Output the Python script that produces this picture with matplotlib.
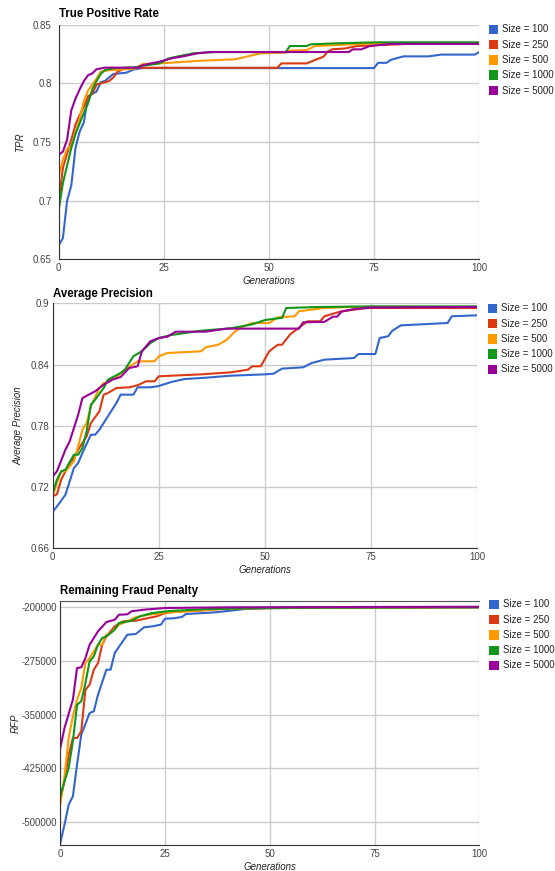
import numpy as np
import matplotlib
matplotlib.use("Agg")
import matplotlib.pyplot as plt
from matplotlib.patches import Rectangle

plt.rcParams['font.family'] = ['Liberation Sans', 'DejaVu Sans']

sizes = ['Size = 100', 'Size = 250', 'Size = 500', 'Size = 1000', 'Size = 5000']
colors = ['#3366cc', '#dc3912', '#ff9900', '#109618', '#990099']

# ---- True Positive Rate (generation, value) ----
tpr_gen_100 = [0, 1, 2, 3, 4, 5, 6, 7, 8, 9, 10, 11, 13, 16, 18, 20, 75, 76, 78, 79, 82, 88, 91, 99, 100]
tpr_100 = [0.662, 0.668, 0.700, 0.713, 0.745, 0.759, 0.767, 0.789, 0.791, 0.793, 0.801, 0.802, 0.808,
           0.809, 0.812, 0.813, 0.813, 0.8175, 0.8175, 0.820, 0.823, 0.823, 0.8245, 0.8245, 0.8265]
tpr_gen_250 = [0, 1, 2, 3, 4, 5, 6, 7, 8, 9, 10, 12, 13, 14, 15, 16, 52, 53, 59, 61, 63, 64, 65, 68, 71, 75, 83, 100]
tpr_250 = [0.698, 0.728, 0.740, 0.752, 0.765, 0.773, 0.780, 0.789, 0.791, 0.799, 0.800, 0.802, 0.805,
           0.810, 0.8115, 0.8133, 0.8133, 0.817, 0.817, 0.820, 0.8227, 0.827, 0.829, 0.8297, 0.8318,
           0.8325, 0.8336, 0.8336]
tpr_gen_500 = [0, 1, 2, 3, 4, 5, 6, 7, 8, 9, 10, 12, 18, 20, 24, 34, 42, 45, 48, 54, 55, 59, 61, 72, 76, 100]
tpr_500 = [0.7205, 0.735, 0.744, 0.747, 0.758, 0.770, 0.785, 0.794, 0.799, 0.804, 0.810, 0.8112, 0.8125,
           0.8165, 0.817, 0.8193, 0.8205, 0.823, 0.8256, 0.8262, 0.8279, 0.8284, 0.8318, 0.8336, 0.834, 0.834]
tpr_gen_1000 = [0, 1, 2, 3, 4, 5, 6, 7, 8, 9, 10, 11, 13, 18, 20, 24, 26, 28, 32, 37, 54, 55, 59, 60, 67, 76, 100]
tpr_1000 = [0.692, 0.715, 0.730, 0.745, 0.757, 0.766, 0.775, 0.783, 0.795, 0.802, 0.808, 0.8114, 0.8129,
            0.8135, 0.815, 0.817, 0.821, 0.8227, 0.8256, 0.8267, 0.8267, 0.8318, 0.8318, 0.8333, 0.8342,
            0.835, 0.835]
tpr_gen_5000 = [0, 1, 2, 3, 4, 5, 6, 7, 8, 9, 11, 19, 20, 24, 27, 30, 33, 36, 69, 70, 72, 74, 79, 100]
tpr_5000 = [0.739, 0.7418, 0.752, 0.777, 0.787, 0.795, 0.802, 0.807, 0.8085, 0.812, 0.8134, 0.8134, 0.8155,
            0.8185, 0.8214, 0.8233, 0.8256, 0.8267, 0.8267, 0.829, 0.829, 0.8318, 0.8336, 0.8336]

# ---- Average Precision ----
ap_gen_100 = [0, 1, 3, 4, 5, 6, 7, 9, 10, 11, 13, 15, 16, 19, 20, 23, 25, 28, 31, 36, 42, 50, 52, 54, 59,
              61, 64, 71, 72, 76, 77, 79, 80, 82, 93, 94, 100]
ap_100 = [0.696, 0.701, 0.7125, 0.7256, 0.7387, 0.7436, 0.7534, 0.7713, 0.7713, 0.7762, 0.7893, 0.8023,
          0.8105, 0.8105, 0.8177, 0.8177, 0.819, 0.823, 0.8258, 0.8271, 0.8291, 0.8304, 0.831, 0.836,
          0.8373, 0.8415, 0.8448, 0.8464, 0.8503, 0.8503, 0.866, 0.8677, 0.8732, 0.8784, 0.8807, 0.8873, 0.8882]
ap_gen_250 = [0, 1, 2, 3, 4, 5, 6, 8, 9, 11, 12, 13, 15, 18, 20, 22, 24, 25, 35, 42, 46, 47, 49, 51, 53,
              54, 56, 57, 60, 63, 64, 68, 74, 100]
ap_250 = [0.711, 0.713, 0.7272, 0.7354, 0.7436, 0.7484, 0.7566, 0.7697, 0.7827, 0.7942, 0.8105, 0.8121,
          0.817, 0.8177, 0.8197, 0.8236, 0.8236, 0.8285, 0.8304, 0.8324, 0.835, 0.8383, 0.8383, 0.853,
          0.8594, 0.8594, 0.8699, 0.8729, 0.8824, 0.8824, 0.8873, 0.8922, 0.8954, 0.8954]
ap_gen_500 = [0, 1, 2, 3, 5, 6, 7, 8, 9, 11, 12, 13, 15, 17, 20, 24, 25, 27, 35, 36, 39, 41, 43, 45, 47,
              51, 53, 57, 58, 64, 70, 100]
ap_500 = [0.711, 0.724, 0.7354, 0.7354, 0.7452, 0.7599, 0.7762, 0.7827, 0.7991, 0.817, 0.8219, 0.8225,
          0.8275, 0.835, 0.8432, 0.8432, 0.8481, 0.8513, 0.853, 0.8569, 0.8594, 0.8643, 0.8726, 0.8775,
          0.8807, 0.8807, 0.8863, 0.8873, 0.8922, 0.8954, 0.8964, 0.8964]
ap_gen_1000 = [0, 1, 2, 3, 5, 6, 7, 8, 9, 10, 12, 13, 16, 17, 19, 21, 23, 25, 28, 35, 42, 47, 50, 53, 54,
               55, 63, 75, 100]
ap_1000 = [0.7142, 0.7272, 0.7354, 0.737, 0.7517, 0.7517, 0.7583, 0.7746, 0.8007, 0.8056, 0.817, 0.8252,
           0.8317, 0.835, 0.8481, 0.853, 0.8611, 0.866, 0.869, 0.8732, 0.8755, 0.8794, 0.8836, 0.8853,
           0.8856, 0.8954, 0.8964, 0.897, 0.897]
ap_gen_5000 = [0, 1, 3, 4, 6, 7, 10, 12, 14, 16, 18, 20, 21, 23, 25, 27, 29, 36, 41, 58, 59, 64, 66, 67,
               68, 71, 75, 100]
ap_5000 = [0.7305, 0.7354, 0.7566, 0.7648, 0.7909, 0.8072, 0.8138, 0.8203, 0.8252, 0.8278, 0.8366, 0.8383,
           0.853, 0.8628, 0.866, 0.8673, 0.8722, 0.8722, 0.8752, 0.8752, 0.8814, 0.8818, 0.8869, 0.8869,
           0.8918, 0.8944, 0.8959, 0.8964]

# ---- Remaining Fraud Penalty ----
rfp_gen_100 = [0, 1, 2, 3, 4, 5, 7, 8, 9, 11, 12, 13, 16, 18, 20, 22, 24, 25, 27, 29, 30, 37, 44, 50, 60, 100]
rfp_100 = [-529800, -504200, -476200, -464500, -420200, -378300, -347900, -345500, -322300, -287300,
           -287300, -263900, -238300, -237400, -228000, -226600, -224300, -215900, -215400, -213600,
           -209400, -207000, -202500, -201300, -200700, -200300]
rfp_gen_250 = [0, 1, 2, 3, 4, 5, 6, 7, 8, 9, 10, 11, 13, 15, 18, 21, 23, 25, 28, 32, 40, 60, 100]
rfp_250 = [-466900, -443500, -406300, -382900, -382900, -373500, -315300, -308300, -287300, -277900,
           -252300, -240600, -226600, -219600, -218800, -215000, -212600, -208000, -206000, -205000,
           -201500, -200500, -199800]
rfp_gen_500 = [0, 1, 2, 3, 4, 5, 6, 7, 8, 9, 10, 11, 12, 14, 16, 18, 21, 25, 32, 40, 60, 100]
rfp_500 = [-476200, -436500, -382900, -352500, -329300, -312900, -277900, -270900, -261600, -252300,
           -252300, -238300, -236000, -224300, -219600, -214000, -210400, -207500, -205000, -202000,
           -200500, -199900]
rfp_gen_1000 = [0, 1, 2, 3, 4, 5, 6, 7, 8, 9, 10, 11, 13, 14, 17, 19, 22, 26, 35, 50, 100]
rfp_1000 = [-464500, -443500, -424900, -387500, -336300, -331500, -305900, -275600, -268600, -252300,
            -243000, -240600, -231300, -222000, -218800, -212600, -208000, -205200, -202500, -200800, -199900]
rfp_gen_5000 = [0, 1, 3, 4, 5, 6, 7, 8, 9, 11, 13, 14, 16, 17, 20, 25, 40, 100]
rfp_5000 = [-396900, -368900, -329300, -284900, -284000, -270900, -252300, -243000, -233600, -220600,
            -217400, -210400, -209800, -205600, -203300, -201000, -200000, -199200]

tpr_ticks = [0.65, 0.7, 0.75, 0.8, 0.85]
tpr_labels = ['0.65', '0.7', '0.75', '0.8', '0.85']
ap_ticks = [0.66, 0.72, 0.78, 0.84, 0.9]
ap_labels = ['0.66', '0.72', '0.78', '0.84', '0.9']
rfp_ticks = [-500000, -425000, -350000, -275000, -200000]
rfp_labels = ['-500000', '-425000', '-350000', '-275000', '-200000']
gen_ticks = [0, 25, 50, 75, 100]

W, H = 555, 871
fig = plt.figure(figsize=(W / 100, H / 100), dpi=100)


def box(l, r, t, b):
    # pixel box -> figure fraction
    return [l / W, 1 - b / H, (r - l) / W, (b - t) / H]


def chart(rect, title, title_y, ylabel, ylabel_x, gens, vals, ylim, ticks, labels, ypad, leg_x, leg_y, top_dark=False):
    ax = fig.add_axes(box(*rect))
    for g, v, c in zip(gens, vals, colors):
        ax.plot(g, v, color=c, lw=1.5, solid_joinstyle='round')
    ax.set_xlim(0, 100)
    ax.set_ylim(*ylim)
    ax.set_xticks(gen_ticks)
    ax.set_xticklabels([str(t) for t in gen_ticks])
    ax.set_yticks(ticks)
    ax.set_yticklabels(labels)
    ax.grid(True, color='#cccccc', lw=1)
    ax.set_axisbelow(True)
    ax.tick_params(length=0, labelsize=7, colors='#444444')
    ax.tick_params(axis='y', pad=ypad)
    ax.tick_params(axis='x', pad=3)
    ax.spines['right'].set_visible(False)
    ax.spines['top'].set_visible(top_dark)
    ax.spines['top'].set_color('#555555')
    ax.spines['left'].set_color('#333333')
    ax.spines['bottom'].set_color('#333333')
    ax.set_xlabel('Generations', fontsize=7, style='italic', color='#222222', labelpad=2)
    ax.set_ylabel(ylabel, fontsize=7, style='italic', color='#222222')
    # label coords give the right edge of the rotated label
    ax.yaxis.set_label_coords((ylabel_x + 4 - rect[0]) / (rect[1] - rect[0]), 0.5)
    fig.text(rect[0] / W, 1 - title_y / H, title, fontsize=8.3, fontweight='bold', va='baseline')
    # legend boxes
    for i, (lab, c) in enumerate(zip(sizes, colors)):
        yc = leg_y + i * 15.3
        fig.add_artist(Rectangle((leg_x / W, 1 - (yc + 4.7) / H), 9.4 / W, 9.4 / H,
                                 transform=fig.transFigure, color=c, lw=0))
        fig.text((leg_x + 13.5) / W, 1 - yc / H, lab, fontsize=7, color='#222222', va='center')
    return ax


chart((58.7, 479, 24.7, 259.3), 'True Positive Rate', 17, 'TPR', 21.5,
      [tpr_gen_100, tpr_gen_250, tpr_gen_500, tpr_gen_1000, tpr_gen_5000],
      [tpr_100, tpr_250, tpr_500, tpr_1000, tpr_5000],
      (0.65, 0.85), tpr_ticks, tpr_labels, 5, 489, 29.3)

chart((52.7, 477.3, 303.3, 548.3), 'Average Precision', 297, 'Average Precision', 19.5,
      [ap_gen_100, ap_gen_250, ap_gen_500, ap_gen_1000, ap_gen_5000],
      [ap_100, ap_250, ap_500, ap_1000, ap_5000],
      (0.66, 0.9), ap_ticks, ap_labels, 2.5, 487.7, 308.3)

chart((60.3, 479.3, 600.7, 845), 'Remaining Fraud Penalty', 593.5, 'RFP', 16.5,
      [rfp_gen_100, rfp_gen_250, rfp_gen_500, rfp_gen_1000, rfp_gen_5000],
      [rfp_100, rfp_250, rfp_500, rfp_1000, rfp_5000],
      (-532600, -190760), rfp_ticks, rfp_labels, 2.5, 489.3, 604.3, top_dark=True)

fig.savefig('out.png', dpi=100)
